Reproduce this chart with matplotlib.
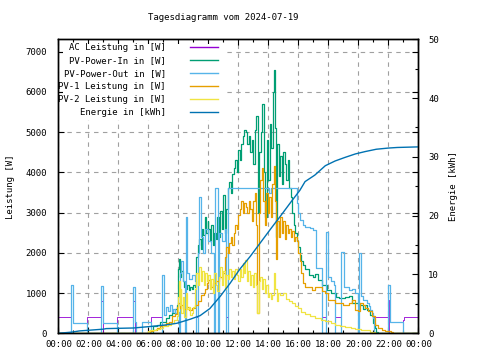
import matplotlib.pyplot as plt
from matplotlib.lines import Line2D
from matplotlib.patches import Rectangle

# Zeit in Stunden, Werte in W bzw. kWh
t_ac = [0, 0.87, 1.9, 2.87, 2.95, 3.9, 5.0, 5.08, 6.2, 6.93, 7.07, 7.15, 7.3,
        7.45, 7.55, 7.65, 7.8, 7.95, 8.05, 8.1, 8.2, 8.3, 8.45, 8.5, 8.55, 8.7,
        8.9, 9.1, 9.2, 9.3, 9.4, 9.5, 9.65, 9.8, 10.0, 10.15, 10.35, 10.42,
        10.65, 10.72, 10.9, 11.1, 11.2, 11.3, 14.05, 14.15, 15.9, 16.0, 16.1,
        16.3, 16.45, 16.8, 17.0, 17.2, 17.55, 17.6, 17.85, 17.95, 18.2, 18.35,
        18.45, 18.83, 19.05, 19.35, 19.6, 19.75, 20.0, 20.05, 20.2, 20.3, 20.55,
        20.7, 20.8, 20.9, 21.0, 21.07, 22.0, 22.05, 23.0, 23.05, 24]
p_ac = [400, 0, 400, 800, 0, 400, 800, 0, 400, 1450, 450, 650, 560,
        700, 540, 600, 500, 530, 400, 1500, 1800, 1300, 400, 2900, 1500, 1350,
        1450, 1300, 400, 2000, 3400, 2400, 2000, 2600, 2300, 2000, 400, 3600,
        400, 2500, 2300, 2600, 400, 3600, 3480, 3600, 3230, 2980, 2820,
        2690, 2650, 2610, 2570, 1620, 800, 400, 2530, 1410, 1290, 1200,
        400, 2030, 1160, 1080, 1100, 1000, 400, 2000, 915, 830, 750,
        667, 583, 500, 377, 400, 830, 0, 320, 400, 400]

t_in = [0, 6.3, 6.6, 6.8, 7.0, 7.2, 7.4, 7.6, 7.8, 7.9,
        8.0, 8.05, 8.1, 8.2, 8.3, 8.4, 8.5, 8.6, 8.7, 8.8, 8.9, 9.0, 9.1, 9.2, 9.3,
        9.4, 9.5, 9.55, 9.65, 9.75, 9.85, 9.95, 10.0, 10.1, 10.2, 10.3, 10.4, 10.5,
        10.6, 10.7, 10.8, 10.9, 11.0, 11.1, 11.2, 11.3, 11.4, 11.5, 11.6, 11.7,
        11.8, 11.9, 12.0, 12.1, 12.2, 12.3, 12.4, 12.5, 12.6, 12.7, 12.8, 12.9,
        13.0, 13.1, 13.2, 13.3, 13.4, 13.5, 13.6, 13.7, 13.8, 13.9, 14.0, 14.1,
        14.2, 14.3, 14.35, 14.45, 14.5, 14.6, 14.7, 14.8, 14.9, 15.0, 15.1, 15.2,
        15.3, 15.4, 15.5, 15.6, 15.7, 15.8, 15.9, 16.0, 16.1, 16.2, 16.3, 16.45,
        16.7, 17.0, 17.1, 17.3, 17.6, 17.9, 18.2, 18.5, 18.7, 19.1, 19.4, 19.6,
        19.9, 20.1, 20.3, 20.45, 20.55, 20.8, 21.0, 21.1, 21.2, 21.3, 24]
p_in = [0, 170, 210, 270, 290, 380, 460, 500, 600, 700,
        1600, 1850, 1400, 1550, 1300, 1150, 1100, 1200, 1080, 1150, 1100, 1200, 1150, 1900, 2200,
        2350, 2100, 2600, 2450, 2900, 2500, 2800, 2600, 2300, 2700, 2200, 2500, 2350,
        2900, 2400, 3050, 2600, 3450, 2500, 3100, 3600, 3750, 3500, 3950, 4100,
        4300, 4000, 4550, 4300, 4700, 4900, 5050, 5000, 4700, 4900, 4500, 4800,
        4200, 5050, 5400, 3000, 4500, 5000, 5700, 4000, 2900, 4800, 3800, 5200,
        4600, 6000, 6550, 5100, 2400, 4700, 3900, 4400, 3700, 4500, 4200, 3800,
        4300, 3600, 3400, 3000, 2700, 2500, 2300, 2150, 1950, 1800, 1700, 1600,
        1450, 1400, 1470, 1330, 1200, 1080, 1000, 900, 870, 900, 920, 760,
        750, 700, 600, 700, 580, 460, 250, 130, 40, 0, 0]

t_out = [0, 0.87, 1.0, 1.9, 2.87, 2.95, 3.9, 5.0, 5.08, 5.2, 5.6, 6.2, 6.93,
         7.07, 7.15, 7.3, 7.45, 7.55, 7.65, 7.8, 7.95, 8.05, 8.1, 8.2, 8.3, 8.45,
         8.5, 8.55, 8.7, 8.9, 9.1, 9.2, 9.3, 9.4, 9.5, 9.65, 9.8, 10.0, 10.15,
         10.35, 10.42, 10.65, 10.72, 10.9, 11.1, 11.2, 11.3, 14.05, 14.15, 15.9,
         16.0, 16.1, 16.3, 16.45, 16.8, 17.0, 17.2, 17.55, 17.85, 17.95, 18.2,
         18.35, 18.45, 18.83, 19.05, 19.35, 19.6, 19.75, 20.0, 20.05, 20.2, 20.3,
         20.55, 20.7, 20.8, 20.9, 21.0, 21.07, 22.0, 22.08, 23.0, 24]
p_out = [0, 1200, 250, 0, 1180, 250, 0, 1150, 290, 0, 280, 0, 1450,
         450, 650, 560, 700, 540, 600, 500, 530, 0, 1500, 1800, 1300, 0,
         2900, 1500, 1350, 1450, 1300, 0, 2000, 3400, 2400, 2000, 2600, 2300, 2000,
         0, 3600, 0, 2500, 2300, 2600, 0, 3600, 3480, 3600, 3230,
         2980, 2820, 2690, 2650, 2610, 2570, 1620, 0, 2530, 1410, 1290,
         1200, 0, 2030, 1160, 1080, 1100, 1000, 0, 2000, 915, 830,
         750, 667, 583, 500, 377, 0, 1200, 270, 0, 0]

t_pv1 = [0, 6.1, 6.3, 6.6, 6.8, 7.0, 7.2, 7.4, 7.6, 7.8, 7.9, 8.0, 8.1, 8.2, 8.3,
         8.5, 8.7, 8.9, 9.1, 9.3, 9.5, 9.7, 9.8, 9.9, 10.0, 10.1, 10.2, 10.3, 10.5,
         10.7, 10.9, 11.0, 11.1, 11.2, 11.3, 11.4, 11.5, 11.6, 11.7, 11.8, 11.9,
         12.0, 12.1, 12.2, 12.3, 12.4, 12.5, 12.6, 12.7, 12.8, 12.9, 13.0, 13.1,
         13.2, 13.25, 13.35, 13.45, 13.55, 13.65, 13.75, 13.85, 13.95, 14.05,
         14.15, 14.25, 14.35, 14.45, 14.5, 14.6, 14.7, 14.8, 14.9, 15.0, 15.1,
         15.2, 15.3, 15.4, 15.5, 15.6, 15.7, 15.8, 15.9, 16.0, 16.1, 16.2, 16.3,
         16.45, 16.9, 17.1, 17.35, 17.6, 17.8, 18.0, 18.45, 19.0, 19.4, 19.6,
         19.8, 20.0, 20.1, 20.3, 20.45, 20.65, 20.9, 21.1, 21.3, 21.55, 21.8,
         22.0, 22.2, 22.3, 24]
p_pv1 = [0, 50, 90, 130, 170, 210, 250, 290, 420, 470, 650, 750, 620, 700, 600,
         650, 580, 620, 700, 800, 950, 1000, 1100, 1250, 1330, 1200, 1150, 1250, 1300,
         1400, 1350, 1500, 1900, 2150, 2000, 2250, 2400, 2200, 2500, 2700, 2600,
         2950, 3100, 3300, 3000, 3250, 3150, 3000, 3300, 3100, 2800, 3300, 3500,
         2700, 500, 3000, 3800, 4100, 3300, 2700, 3500, 3000, 3400,
         2900, 3700, 4150, 3300, 1850, 2800, 2400, 2900, 2500, 2800, 2350,
         2700, 2500, 2600, 2400, 2550, 2300, 2400, 2300, 2000, 1800, 1500, 1250,
         1160, 1080, 1150, 1160, 1050, 1000, 830, 750, 710, 760, 830,
         580, 560, 750, 700, 620, 560, 420, 210, 130, 85, 60,
         45, 20, 0, 0]

t_pv2 = [0, 6.0, 6.1, 6.5, 6.8, 7.0, 7.3, 7.5, 7.7, 7.9, 8.0, 8.05, 8.1, 8.15,
         8.2, 8.3, 8.4, 8.5, 8.6, 8.7, 8.8, 8.9, 9.0, 9.1, 9.2, 9.3, 9.4, 9.5, 9.6,
         9.7, 9.8, 9.9, 10.0, 10.1, 10.2, 10.3, 10.4, 10.5, 10.6, 10.7, 10.8, 10.9,
         11.0, 11.1, 11.2, 11.3, 11.4, 11.5, 11.6, 11.7, 11.8, 11.9, 12.0, 12.1,
         12.2, 12.3, 12.4, 12.45, 12.55, 12.65, 12.75, 12.85, 12.95, 13.05, 13.15,
         13.25, 13.35, 13.45, 13.55, 13.65, 13.75, 13.85, 13.95, 14.05, 14.15,
         14.25, 14.35, 14.45, 14.55, 14.65, 14.8, 15.0, 15.2, 15.4, 15.6, 15.8,
         16.0, 16.2, 16.45, 16.8, 17.1, 17.5, 17.8, 18.2, 18.45, 18.8, 19.1,
         19.5, 19.8, 20.2, 20.5, 20.8, 21.0, 21.1, 24]
p_pv2 = [0, 45, 90, 110, 130, 170, 210, 250, 330, 420, 900, 1300, 700, 1100,
         500, 900, 400, 1000, 600, 650, 450, 500, 650, 1100, 1500, 1200, 1650, 1300, 1550,
         1200, 1500, 1300, 1450, 1100, 1350, 1000, 1500, 1200, 1050, 1400, 1650, 1200,
         1550, 1100, 1450, 1350, 1600, 1400, 1550, 1350, 1600, 1450, 1300, 1600,
         1400, 1750, 1500, 1830, 1300, 1550, 1200, 1450, 1150, 1500, 1200,
         500, 1300, 1400, 1100, 1350, 1000, 1200, 900, 1000, 850,
         950, 1500, 1100, 800, 1000, 950, 1000, 850, 800, 750, 680,
         620, 540, 470, 420, 380, 340, 310, 260, 210, 180, 150,
         120, 100, 80, 70, 40, 20, 0, 0]

t_e = [0, 0.9, 1.4, 3.0, 3.2, 5.0, 5.9, 7.1, 7.9, 8.8, 9.45, 10.1, 10.8, 11.45,
       12.1, 12.8, 13.5, 14.2, 14.8, 15.5, 16.1, 16.45, 17.1, 17.8, 18.45, 19.1,
       19.8, 20.45, 21.2, 22.0, 22.6, 24]
e_kwh = [0, 0.2, 0.4, 0.7, 0.8, 0.9, 1.1, 1.4, 1.7, 2.4, 3.0, 4.2, 6.3, 8.5,
         10.9, 13.1, 15.5, 17.9, 19.9, 22.3, 24.3, 25.8, 26.9, 28.5, 29.3, 29.9,
         30.5, 30.9, 31.3, 31.5, 31.6, 31.7]

labels = ["AC Leistung in [W]", "PV-Power-In in [W]", "PV-Power-Out in [W]",
          "PV-1 Leistung in [W]", "PV-2 Leistung in [W]", "Energie in [kWh]"]
colors = ["#9400d3", "#009e73", "#56b4e9", "#e69f00", "#f0e442", "#0072b2"]
x_hours = list(range(0, 25, 2))
x_labels = ["%02d:00" % (h % 24) for h in x_hours]

plt.rcParams['font.family'] = ['DejaVu Sans Mono']
fs = 6.5

fig = plt.figure(figsize=(4.8, 3.6), dpi=100)
ax = fig.add_axes([0.1215, 0.0742, 0.75, 0.8167])
ax2 = ax.twinx()

series = [(t_ac, p_ac), (t_in, p_in), (t_out, p_out), (t_pv1, p_pv1), (t_pv2, p_pv2)]
widths = [0.6, 0.9, 0.9, 0.9, 0.9]
for (t, p), c, w in zip(series, colors, widths):
    ax.plot(t, p, color=c, lw=w, drawstyle='steps-post')
ax2.plot(t_e, e_kwh, color=colors[5], lw=1.0)

ax.set_xlim(0, 24)
ax.set_ylim(0, 7310)
ax2.set_ylim(0, 50)
ax.set_xticks(x_hours)
ax.set_xticklabels(x_labels)
ax.set_xticks(range(25), minor=True)
ax.set_yticks(range(0, 7001, 1000))
ax2.set_yticks(range(0, 51, 10))
ax2.set_yticks(range(0, 51, 5), minor=True)

ax.grid(True, which='major', color='#a0a0a0', ls=(0, (4, 4)), lw=0.8)
ax.set_axisbelow(True)
ax.tick_params(which='major', direction='in', length=4, width=0.8, labelsize=fs,
               top=True, right=True)
ax.tick_params(which='minor', direction='in', length=2.5, width=0.8, top=True)
ax.tick_params(axis='y', pad=8)
ax.tick_params(axis='x', pad=5)
ax2.tick_params(which='major', direction='in', length=4, width=0.8, labelsize=fs, pad=7)
ax2.tick_params(which='minor', direction='in', length=2.5, width=0.8)
for a in (ax, ax2):
    for s in a.spines.values():
        s.set_linewidth(1.0)

ax.set_ylabel("Leistung [W]", fontsize=fs)
ax2.set_ylabel("Energie [kWh]", fontsize=fs)
ax.yaxis.set_label_coords(-0.12, 0.5)
ax2.yaxis.set_label_coords(1.085, 0.5)
fig.text(0.466, 0.95, "Tagesdiagramm vom 2024-07-19", ha='center', va='center', fontsize=fs)

# Legende wie bei gnuplot: Text rechtsbuendig, Linie rechts daneben
ax2.add_patch(Rectangle((0.014, 0.7255), 0.449, 0.257, transform=ax2.transAxes,
                        facecolor='white', edgecolor='none', zorder=8))
for i, (lab, c) in enumerate(zip(labels, colors)):
    y = 0.9728 - 0.0442 * i
    ax2.text(0.299, y, lab, transform=ax2.transAxes, ha='right', va='center',
             fontsize=fs, zorder=9)
    ax2.add_line(Line2D([0.3658, 0.4436], [y, y], transform=ax2.transAxes,
                        color=c, lw=1.0, zorder=9))

fig.savefig("out.png", dpi=100)
